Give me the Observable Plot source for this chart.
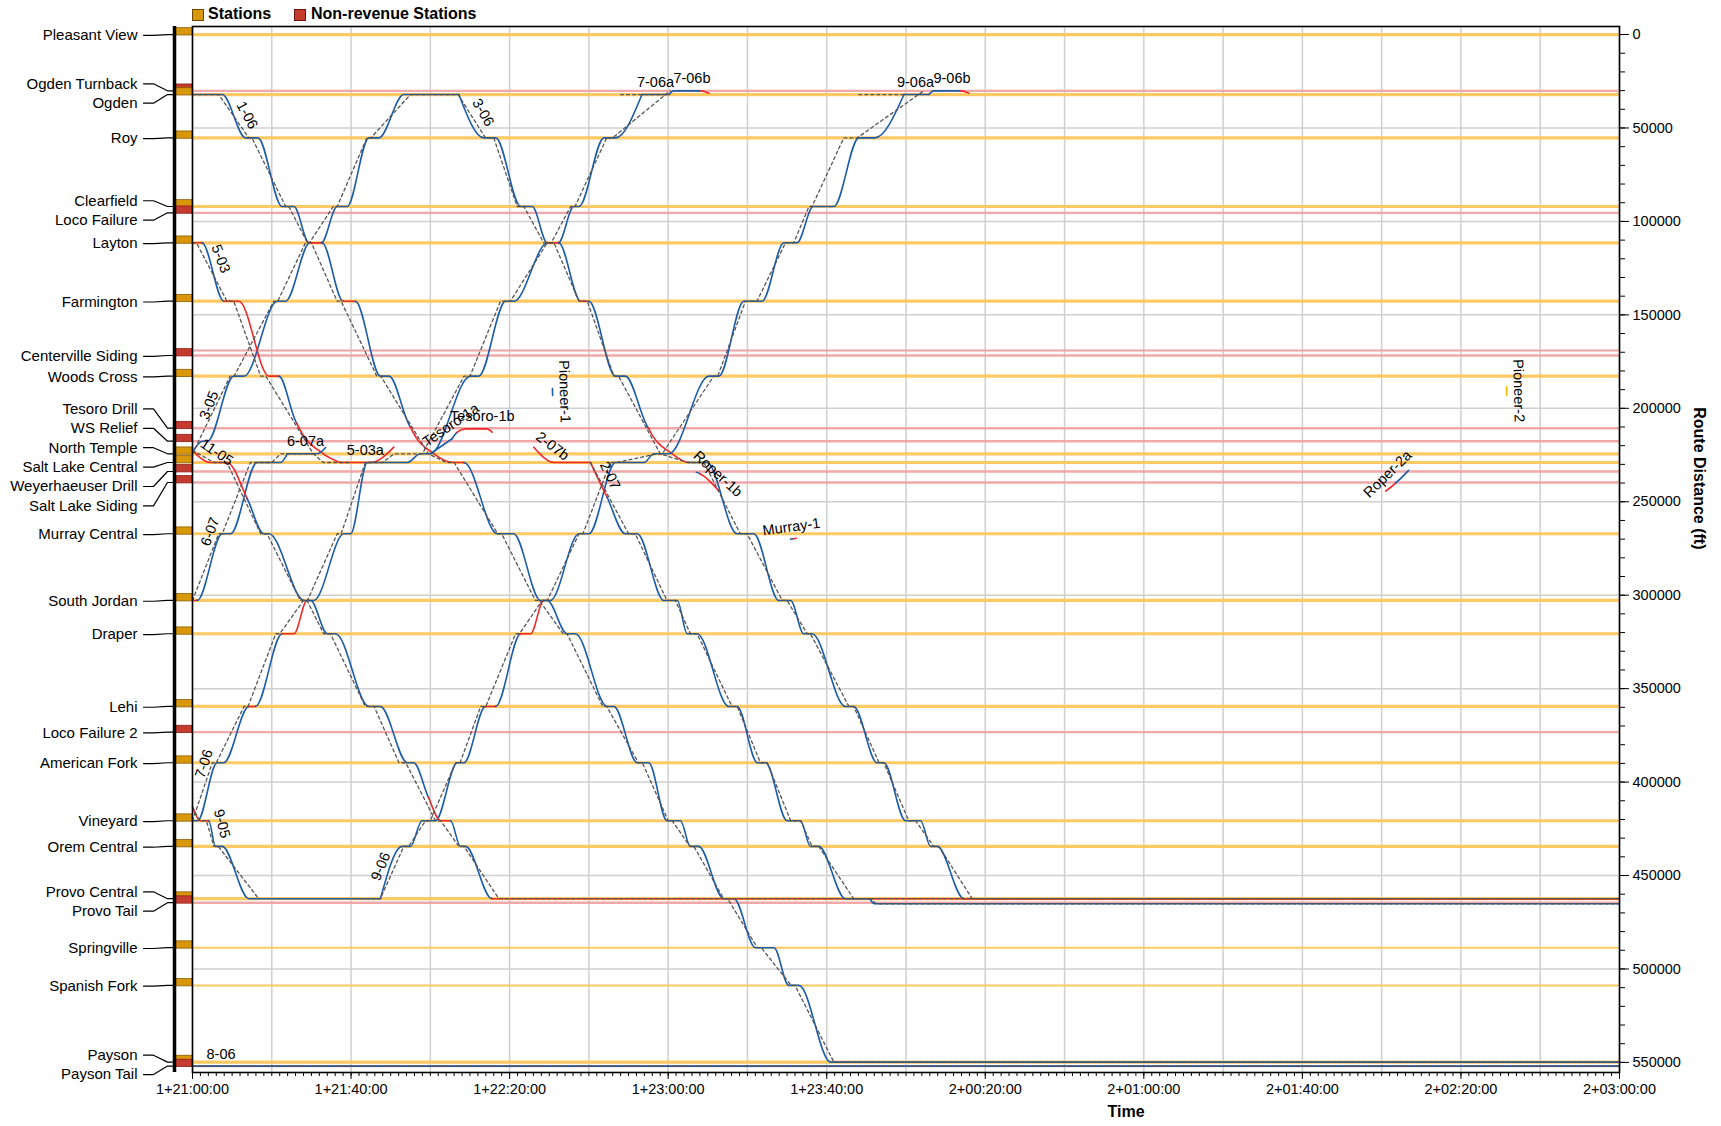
<!DOCTYPE html>
<html><head><meta charset="utf-8">
<script src="https://cdn.jsdelivr.net/npm/d3@7"></script>
<script src="https://cdn.jsdelivr.net/npm/@observablehq/plot@0.6"></script>
<style>
body{margin:0;background:#fff;font-family:"Liberation Sans",Arial,sans-serif;}
#wrap{position:relative;width:1721px;height:1126px;overflow:hidden;}
#legend{position:absolute;left:0;top:0;width:600px;height:26px;font-weight:bold;font-size:16px;color:#000;}
#legend .sw{position:absolute;top:9px;width:10px;height:10px;border:1px solid #000;}
#legend .tx{position:absolute;top:5px;line-height:18px;white-space:nowrap;}
#chart{position:absolute;left:0;top:0;}
</style></head>
<body><div id="wrap"><div id="chart"></div>
<div id="legend"><span class="sw" style="left:192px;background:#d9980b;border-color:#6b4700"></span><span class="tx" style="left:208px">Stations</span><span class="sw" style="left:294px;background:#c43c2f;border-color:#6e140f"></span><span class="tx" style="left:311px">Non-revenue Stations</span></div>
</div>
<script>
// ---------------- data ----------------
const stationNames = ["Pleasant View","Ogden Turnback","Ogden","Roy","Clearfield","Loco Failure","Layton","Farmington","Centerville Siding","Woods Cross","Tesoro Drill","WS Relief","North Temple","Salt Lake Central","Weyerhaeuser Drill","Salt Lake Siding","Murray Central","South Jordan","Draper","Lehi","Loco Failure 2","American Fork","Vineyard","Orem Central","Provo Central","Provo Tail","Springville","Spanish Fork","Payson","Payson Tail"];
const stationFeet = [0,30120,32100,55270,92020,95400,111450,142700,171740,182800,210640,217600,224330,228990,233800,239690,267130,302820,320640,359530,373270,389650,420680,434430,462410,464550,488630,508800,549840,551980];
const stationTypes = ["rev","non","rev","rev","rev","non","rev","rev","non","rev","non","non","rev","rev","non","non","rev","rev","rev","rev","non","rev","rev","rev","rev","non","rev","rev","rev","non"];
const sidingFeet = [169060];
const thinStations = ["Springville","Spanish Fork"];

const trip106 = [[0,"Ogden"],[7.5,"Ogden"],[13.4,"Roy"],[16.5,"Roy"],[22.6,"Clearfield"],[25.6,"Clearfield"],[29.4,"Layton","r"],[32.7,"Layton"],[38.0,"Farmington","r"],[41.1,"Farmington"],[47.4,"Woods Cross"],[49.6,"Woods Cross"],[55,210100,"r"],[60.9,"North Temple","r"],[65.9,"Salt Lake Central","r"],[68.5,"Salt Lake Central"],[76.9,"Murray Central"],[81,"Murray Central"],[87.8,"South Jordan"],[89.5,"South Jordan"],[94.5,"Draper"],[96.6,"Draper"],[104.6,"Lehi"],[106.3,"Lehi"],[112.2,"American Fork"],[115.1,"American Fork"],[119.7,"Vineyard"],[123.1,"Vineyard"],[125.6,"Orem Central"],[127.7,"Orem Central"],[134,"Provo Central"],[136.6,"Provo Central"],[142,"Springville"],[146.7,"Springville"],[150.4,"Spanish Fork"],[153,"Spanish Fork"],[161,"Payson"],[360,"Payson"]];
const trip305 = [[0,223500],[2.5,"WS Relief"],[3.8,"WS Relief"],[10.4,"Woods Cross"],[13,"Woods Cross"],[21.4,"Farmington"],[23.5,"Farmington"],[29.6,"Layton","r"],[32.5,"Layton"],[36.5,"Clearfield"],[39,"Clearfield"],[44.5,"Roy"],[47,"Roy"],[53.3,"Ogden"],[67.2,"Ogden"]];
const trip306 = [[67.2,"Ogden"],[73.5,"Roy"],[76.5,"Roy"],[82.8,"Clearfield"],[85.7,"Clearfield"],[89.5,"Layton","r"],[92.4,"Layton"],[97.9,"Farmington","r"],[100,"Farmington"],[106.7,"Woods Cross"],[109.2,"Woods Cross"],[115.1,210800,"r"],[121,"North Temple","r"],[125.2,"Salt Lake Central"],[129.8,"Salt Lake Central"],[137.4,"Murray Central"],[141.6,"Murray Central"],[147.9,"South Jordan"],[150.9,"South Jordan"],[154.2,"Draper"],[156.3,"Draper"],[164.7,"Lehi"],[166.8,"Lehi"],[172.7,"American Fork"],[174.4,"American Fork"],[179.9,"Vineyard"],[183.7,"Vineyard"],[186.2,"Orem Central"],[187.9,"Orem Central"],[194.6,"Provo Central","r"],[360,"Provo Central"]];
const trip503 = [[0,"Layton","r"],[2.4,"Layton"],[7.9,"Farmington","r"],[11.7,"Farmington","r"],[19.3,"Woods Cross","r"],[21.8,"Woods Cross"],[26.4,208300,"r"],[33,"North Temple","r"],[37.3,"Salt Lake Central"]];
const trip503a = [[37.3,"Salt Lake Central","r"],[45,"Salt Lake Central","r"],[50.8,220800]];
const trip607 = [[0,"South Jordan","r"],[1.2,"South Jordan"],[7.5,"Murray Central"],[9.6,"Murray Central"],[16.3,"Salt Lake Central"],[22.2,"Salt Lake Central"],[23.9,"North Temple"]];
const trip607a = [[23.9,"North Temple"],[31.5,"North Temple"],[33.6,221000]];
const trip706 = [[0,"Vineyard"],[1.3,"Vineyard"],[6.2,"American Fork"],[7.9,"American Fork"],[14.2,"Lehi","r"],[15.9,"Lehi"],[22.6,"Draper","r"],[25.6,"Draper","r"],[28.9,"South Jordan"],[30.6,"South Jordan"],[38.2,"Murray Central"],[39.9,"Murray Central"],[44.1,"Salt Lake Central"],[54.2,"Salt Lake Central"],[57.5,"North Temple"],[60,"North Temple"],[70.1,"Woods Cross"],[72.2,"Woods Cross"],[79,"Farmington"],[81.1,"Farmington"],[89.6,"Layton","r"],[92.3,"Layton"],[96.2,"Clearfield"],[97.5,"Clearfield"],[103.8,"Roy"],[106.7,"Roy"],[113.4,"Ogden"]];
const trip706a = [[113.4,"Ogden"],[120.2,"Ogden"]];
const trip706b = [[120.2,"Ogden"],[121.4,"Ogden Turnback"],[128.2,"Ogden Turnback","r"],[130.3,31400]];
const trip905 = [[0,413400,"r"],[2,"Vineyard","r"],[4.1,"Vineyard"],[5.8,"Orem Central"],[7.5,"Orem Central"],[14.2,"Provo Central"],[47.4,"Provo Central"]];
const trip906 = [[47.4,"Provo Central"],[52.9,"Orem Central"],[55,"Orem Central"],[57.9,"Vineyard"],[61.3,"Vineyard"],[66.8,"American Fork"],[68.5,"American Fork"],[73.9,"Lehi","r"],[76.5,"Lehi"],[82.8,"Draper","r"],[85.3,"Draper","r"],[88.6,"South Jordan"],[90.3,"South Jordan"],[97.5,"Murray Central"],[100,"Murray Central"],[106.7,"Salt Lake Central"],[113.9,"Salt Lake Central"],[116.4,"North Temple"],[120.2,"North Temple"],[130.3,"Woods Cross"],[132.8,"Woods Cross"],[139.1,"Farmington"],[143.7,"Farmington"],[149.2,"Layton"],[152.5,"Layton"],[156.6,"Clearfield"],[161.8,"Clearfield"],[168.1,"Roy"],[172.1,"Roy"],[179.5,"Ogden"]];
const trip906a = [[179.5,"Ogden"],[185.8,"Ogden"]];
const trip906b = [[185.8,"Ogden"],[187,"Ogden Turnback"],[193.8,"Ogden Turnback","r"],[195.9,31400]];
const trip1105 = [[0,222500,"r"],[4.5,"Salt Lake Central","r"],[8.7,"Salt Lake Central","r"],[13.8,248400],[18,"Murray Central"],[19.3,"Murray Central"],[28.2,"South Jordan"],[29.8,"South Jordan"],[34,"Draper"],[36.1,"Draper"],[44.5,"Lehi"],[47.4,"Lehi"],[54.2,"American Fork"],[55.8,"American Fork"],[59.6,408500,"r"],[62.6,"Vineyard","r"],[65.1,"Vineyard"],[67.6,"Orem Central"],[68.9,"Orem Central"],[75.5,"Provo Central","r"],[360,"Provo Central"]];
const trip207b = [[86.1,220800,"r"],[91.2,"Salt Lake Central","r"],[100.4,"Salt Lake Central"]];
const trip207 = [[100.4,"Salt Lake Central","r"],[104.6,247600],[109.2,"Murray Central"],[112.2,"Murray Central"],[118.9,"South Jordan"],[122.3,"South Jordan"],[124.8,"Draper"],[127.3,"Draper"],[135.3,"Lehi"],[137.4,"Lehi"],[142.5,"American Fork"],[144.6,"American Fork"],[150,"Vineyard"],[153.4,"Vineyard"],[155.9,"Orem Central"],[158,"Orem Central"],[164.7,"Provo Central"],[170.6,"Provo Central"],[172,465100],[360,465100]];
const trip806 = [[0,"Payson Tail"],[360,"Payson Tail"]];
const tripTesoro1a = [[60,"North Temple"],[65.5,216300]];
const tripTesoro1b = [[65.5,216300],[66.8,212800,"r"],[68.9,210980,"r"],[74.3,210980,"r"],[75.6,212800]];
const tripPioneer1 = [[90.8,189400],[90.85,193100]];
const tripPioneer2 = [[331.5,188300,"y"],[331.55,193100]];
const tripMurray1 = [[150.9,270000],[151.6,269800,"r"],[152.3,269500]];
const tripRoper1b = [[127.1,234200],[128,235000,"r"],[132.8,244300]];
const tripRoper2a = [[301,244300,"r"],[303.5,240000],[306.8,233200]];

const sched106 = [[0,"Ogden"],[6.6,"Ogden"],[14.2,"Roy"],[15,"Roy"],[23.5,"Clearfield"],[24.3,"Clearfield"],[29,"Layton"],[30,"Layton"],[36.5,"Farmington"],[37.5,"Farmington"],[46.5,"Woods Cross"],[47.5,"Woods Cross"],[59.5,"North Temple"],[64,"Salt Lake Central"],[66,"Salt Lake Central"],[77,"Murray Central"],[78,"Murray Central"],[86.5,"South Jordan"],[87.5,"South Jordan"],[93.5,"Draper"],[94.5,"Draper"],[103.5,"Lehi"],[104.5,"Lehi"],[112.5,"American Fork"],[113.5,"American Fork"],[120,"Vineyard"],[121,"Vineyard"],[125.5,"Orem Central"],[126.5,"Orem Central"],[134,"Provo Central"],[135,"Provo Central"],[142.5,"Springville"],[143.5,"Springville"],[151,"Spanish Fork"],[152,"Spanish Fork"],[161.8,"Payson"],[360,"Payson"]];
const sched305 = [[0,"North Temple"],[9.5,"Woods Cross"],[10.5,"Woods Cross"],[20.5,"Farmington"],[21.5,"Farmington"],[28.5,"Layton"],[29.5,"Layton"],[35.5,"Clearfield"],[36.5,"Clearfield"],[44,"Roy"],[45,"Roy"],[55,"Ogden"],[67,"Ogden"]];
const sched306 = [[67,"Ogden"],[73.9,"Roy"],[76,"Roy"],[81.9,"Clearfield"],[83.6,"Clearfield"],[88.6,"Layton"],[91.2,"Layton"],[97.5,"Farmington"],[99.6,"Farmington"],[106.3,"Woods Cross"],[107.5,"Woods Cross"],[118,"North Temple"],[124.8,"Salt Lake Central"],[129,"Salt Lake Central"],[138.2,"Murray Central"],[139.9,"Murray Central"],[148.8,"South Jordan"],[150,"South Jordan"],[155.1,"Draper"],[155.9,"Draper"],[165.6,"Lehi"],[166.8,"Lehi"],[173.2,"American Fork"],[174.4,"American Fork"],[180.7,"Vineyard"],[182.4,"Vineyard"],[187,"Orem Central"],[188.3,"Orem Central"],[196.7,"Provo Central"],[360,"Provo Central"]];
const sched503 = [[0,"Layton"],[1,"Layton"],[8.7,"Farmington"],[10.4,"Farmington"],[17.2,"Woods Cross"],[18.5,"Woods Cross"],[30.5,"North Temple"],[33,"Salt Lake Central"],[39.5,"Salt Lake Central"]];
const sched607 = [[0,"South Jordan"],[6.6,"Murray Central"],[7.5,"Murray Central"],[14.6,"Salt Lake Central"],[20,"Salt Lake Central"],[22.2,"North Temple"],[30.6,"North Temple"]];
const sched706 = [[0,"Vineyard"],[5,"American Fork"],[6,"American Fork"],[13,"Lehi"],[14,"Lehi"],[21,"Draper"],[22,"Draper"],[28,"South Jordan"],[29,"South Jordan"],[36.5,"Murray Central"],[37.5,"Murray Central"],[43.6,"Salt Lake Central"],[48,"Salt Lake Central"],[50.8,"North Temple"],[58,"North Temple"],[68.5,"Woods Cross"],[70,"Woods Cross"],[77.7,"Farmington"],[80.2,"Farmington"],[89.5,"Layton"],[90.5,"Layton"],[95.4,"Clearfield"],[96.5,"Clearfield"],[104.5,"Roy"],[106,"Roy"],[120.5,"Ogden Turnback"]];
const sched706a = [[108,"Ogden"],[120.2,"Ogden"]];
const sched905 = [[0,413400],[1.8,"Vineyard"],[3.5,"Vineyard"],[5.4,"Orem Central"],[6.5,"Orem Central"],[16.7,"Provo Central"]];
const sched906 = [[40.7,"Provo Central"],[47.4,"Provo Central"],[53.3,"Orem Central"],[54.5,"Orem Central"],[58.8,"Vineyard"],[60,"Vineyard"],[66.4,"American Fork"],[67.5,"American Fork"],[72.7,"Lehi"],[74,"Lehi"],[81.5,"Draper"],[82.5,"Draper"],[88.2,"South Jordan"],[89.5,"South Jordan"],[97.5,"Murray Central"],[98.5,"Murray Central"],[105.4,"Salt Lake Central"],[107,"Salt Lake Central"],[117.2,"North Temple"],[118.5,"North Temple"],[131.5,"Woods Cross"],[132.5,"Woods Cross"],[139.5,"Farmington"],[142.4,"Farmington"],[149.6,"Layton"],[151.7,"Layton"],[155.5,"Clearfield"],[156.3,"Clearfield"],[164.3,"Roy"],[167.7,"Roy"],[184.5,"Ogden Turnback"]];
const sched906a = [[168.1,"Ogden"],[179.5,"Ogden"]];
const sched1105 = [[0,222500],[5.4,"Salt Lake Central"],[8.7,"Salt Lake Central"],[17.2,"Murray Central"],[18.8,"Murray Central"],[27.2,"South Jordan"],[28.9,"South Jordan"],[33.1,"Draper"],[34.8,"Draper"],[43.6,"Lehi"],[45.8,"Lehi"],[52.1,"American Fork"],[53.8,"American Fork"],[61.3,"Vineyard"],[62.6,"Vineyard"],[67.2,"Orem Central"],[68.5,"Orem Central"],[77.3,"Provo Central"],[360,"Provo Central"]];
const sched207 = [[100.4,"Salt Lake Central"],[110,"Murray Central"],[111.7,"Murray Central"],[119.7,"South Jordan"],[121.8,"South Jordan"],[125.6,"Draper"],[127.3,"Draper"],[136.1,"Lehi"],[137.4,"Lehi"],[143.3,"American Fork"],[145,"American Fork"],[150.9,"Vineyard"],[153.4,"Vineyard"],[156.3,"Orem Central"],[158,"Orem Central"],[166.8,"Provo Central"],[171,"Provo Central"],[172.5,465100],[360,465100]];
const sched806 = [[0,"Payson Tail"],[360,"Payson Tail"]];

const tripList = [["1-06",trip106],["3-05",trip305],["3-06",trip306],["5-03",trip503],["5-03a",trip503a],["6-07",trip607],["6-07a",trip607a],["7-06",trip706],["7-06a",trip706a],["7-06b",trip706b],["9-05",trip905],["9-06",trip906],["9-06a",trip906a],["9-06b",trip906b],["11-05",trip1105],["2-07b",trip207b],["2-07",trip207],["8-06",trip806],["Tesoro-1a",tripTesoro1a],["Tesoro-1b",tripTesoro1b],["Pioneer-1",tripPioneer1],["Pioneer-2",tripPioneer2],["Murray-1",tripMurray1],["Roper-1b",tripRoper1b],["Roper-2a",tripRoper2a]];
const schedList = [["1-06",sched106],["3-05",sched305],["3-06",sched306],["5-03",sched503],["6-07",sched607],["7-06",sched706],["7-06a",sched706a],["9-05",sched905],["9-06",sched906],["9-06a",sched906a],["11-05",sched1105],["2-07",sched207],["8-06",sched806]];
// label: trip, text, minute along the trip where the label sits
const trainLabels = [["1-06","1-06",11.1],["3-05","3-05",7.0],["3-06","3-06",70.7],["5-03","5-03",4.3],["5-03a","5-03a",43.6],["6-07","6-07",7.3],["6-07a","6-07a",28.5],["7-06","7-06",5.8],["7-06a","7-06a",116.8],["7-06b","7-06b",126],["9-05","9-05",4.5],["9-06","9-06",50.3],["9-06a","9-06a",182.4],["9-06b","9-06b",191.6],["11-05","11-05",4.4],["8-06","8-06",7.2],["2-07b","2-07b",89],["2-07","2-07",102.6],["Tesoro-1a","Tesoro-1a",66.9],["Tesoro-1b","Tesoro-1b",73.1],["Pioneer-1","Pioneer-1",90.825],["Pioneer-2","Pioneer-2",331.525],["Murray-1","Murray-1",151.5],["Roper-1b","Roper-1b",130.5],["Roper-2a","Roper-2a",303.6]];

const majorTimeTicks = d3.range(0, 361, 40);
const minorTimeTicks = d3.range(0, 361, 2);
const gridTimes = d3.range(0, 361, 20);
const majorDistTicks = d3.range(0, 550001, 50000);
const minorDistTicks = d3.range(0, 550001, 10000);

// ---------------- layout ----------------
const W = 1721, H = 1126, ML = 192, MR = 102, MT = 26, MB = 54;
const XD = [0, 360], YD = [-4300, 555400];
const kx = (W - ML - MR) / (XD[1] - XD[0]);
const ky = (H - MT - MB) / (YD[1] - YD[0]);
const FS = 14.5;

const posOf = s => typeof s === "number" ? s : stationFeet[stationNames.indexOf(s)];
const COL = {b: "#1c5ca8", r: "#ee2a2a", y: "#f2b705"};

const fmtTime = m => {
  const tot = Math.round((21 * 60 + m) * 60);
  const day = 1 + Math.floor(tot / 86400);
  let r = tot % 86400;
  const hh = Math.floor(r / 3600); r %= 3600;
  const mm = Math.floor(r / 60), ss = r % 60;
  const p = v => String(v).padStart(2, "0");
  return `${day}+${p(hh)}:${p(mm)}:${p(ss)}`;
};

// stations + dodged labels
const stationRows = stationNames.map((name, i) => ({name, pos: stationFeet[i], type: stationTypes[i]}));
const sp = 19.4 / ky;
const clusters = [];
for (const s of [...stationRows].sort((a, b) => a.pos - b.pos)) {
  clusters.push({items: [s], mean: s.pos});
  while (clusters.length > 1) {
    const c = clusters[clusters.length - 1], p = clusters[clusters.length - 2];
    const pBottom = p.mean + (p.items.length - 1) / 2 * sp;
    const cTop = c.mean - (c.items.length - 1) / 2 * sp;
    if (cTop - pBottom < sp) {
      const items = p.items.concat(c.items);
      clusters.splice(-2, 2, {items, mean: d3.mean(items, d => d.pos)});
    } else break;
  }
}
clusters.forEach(c => c.items.forEach((s, i) => { s.labelPos = c.mean + (i - (c.items.length - 1) / 2) * sp + 0.8 / ky; }));

const leaderRows = [];
stationRows.forEach(s => {
  leaderRows.push({name: s.name, x: -49 / kx, y: s.labelPos});
  leaderRows.push({name: s.name, x: -39 / kx, y: s.labelPos});
  leaderRows.push({name: s.name, x: -25 / kx, y: s.pos});
  leaderRows.push({name: s.name, x: -18 / kx, y: s.pos});
});

// train segments (split by colour, keeping curve context)
const segRows = [];
let segId = 0;
for (const [name, pts] of tripList) {
  const P = pts.map(p => ({t: p[0], v: posOf(p[1]), c: p[2] || "b"}));
  const n = P.length;
  let a = 0;
  while (a < n - 1) {
    let b = a + 1;
    while (b < n - 1 && P[b].c === P[a].c) b++;
    const run = [];
    if (a > 0) {
      const dt = P[a].t - P[a - 1].t, f = Math.min(0.3, 0.05 / Math.max(dt, 1e-6));
      run.push({t: P[a].t - f * dt, v: P[a].v - f * (P[a].v - P[a - 1].v)});
    }
    for (let i = a; i <= b; i++) run.push({t: P[i].t, v: P[i].v});
    if (b < n - 1) {
      const dt = P[b + 1].t - P[b].t, f = Math.min(0.3, 0.05 / Math.max(dt, 1e-6));
      run.push({t: P[b].t + f * dt, v: P[b].v + f * (P[b + 1].v - P[b].v)});
    }
    for (const r of run) segRows.push({t: r.t, v: r.v, seg: segId, color: COL[P[a].c]});
    segId++;
    a = b;
  }
}

const schedRows = [];
for (const [name, pts] of schedList) pts.forEach(p => schedRows.push({trip: name, t: p[0], v: posOf(p[1])}));

// label placement along trips
const tripMap = new Map(tripList);
const labelRows = trainLabels.map(([trip, text, t]) => {
  const P = tripMap.get(trip).map(p => ({t: p[0], v: posOf(p[1])}));
  let i = 0;
  while (i < P.length - 2 && t > P[i + 1].t) i++;
  const A = P[i], B = P[i + 1];
  const f = (t - A.t) / (B.t - A.t);
  const v = A.v + f * (B.v - A.v);
  const ang = Math.atan2((B.v - A.v) * ky, (B.t - A.t) * kx);
  const off = 12;
  return {text, x: t + off * Math.sin(ang) / kx, y: v - off * Math.cos(ang) / ky, rot: ang * 180 / Math.PI};
});

const stationLineColor = s => s.type === "rev" ? "#ffc65c" : "#f0a3a3";
const stationLineWidth = s => s.type === "rev" ? (thinStations.includes(s.name) ? 2 : 3.2) : 2.4;

const chart = Plot.plot({
  width: W, height: H,
  marginLeft: ML, marginRight: MR, marginTop: MT, marginBottom: MB,
  style: {fontFamily: "'Liberation Sans', Arial, sans-serif", fontSize: FS + "px", background: "white", overflow: "visible"},
  x: {domain: XD, type: "linear"},
  y: {domain: YD, reverse: true},
  marks: [
    Plot.ruleX(gridTimes, {stroke: "#cfcfcf", strokeWidth: 1.5}),
    Plot.ruleY(majorDistTicks, {stroke: "#cfcfcf", strokeWidth: 1.5}),
    Plot.ruleY(sidingFeet, {stroke: "#f0a3a3", strokeWidth: 2}),
    Plot.ruleY(stationRows, {y: "pos", stroke: stationLineColor, strokeWidth: stationLineWidth, strokeOpacity: 0.95}),
    Plot.line(segRows, {x: "t", y: "v", z: "seg", stroke: "color", strokeWidth: 1.6, curve: "monotone-x"}),
    Plot.line(schedRows, {x: "t", y: "v", z: "trip", stroke: "#555", strokeWidth: 1.3, strokeDasharray: "3,3", curve: "linear"}),
    Plot.text(labelRows, {x: "x", y: "y", text: "text", rotate: "rot", textAnchor: "middle", lineAnchor: "middle", fontSize: FS, fill: "black"}),
    // left station panel
    Plot.rect(stationRows, {x1: -16.3 / kx, x2: 0, y1: d => d.pos - 3400, y2: d => d.pos + 500, fill: d => d.type === "rev" ? "#d9980b" : "#c43c2f", stroke: d => d.type === "rev" ? "#8a5c00" : "#8c1d16", strokeWidth: 0.8}),
    Plot.ruleX([-18 / kx], {stroke: "black", strokeWidth: 3.5}),
    Plot.line(leaderRows, {x: "x", y: "y", z: "name", stroke: "black", strokeWidth: 1.2}),
    Plot.text(stationRows, {x: -55 / kx, y: "labelPos", text: "name", textAnchor: "end", lineAnchor: "middle", fontSize: 15, fill: "black"}),
    // axes
    Plot.axisX({ticks: minorTimeTicks, tickSize: 4, tickFormat: () => "", label: null}),
    Plot.axisX({ticks: majorTimeTicks, tickSize: 7, tickPadding: 4, tickFormat: fmtTime, label: null, fontSize: FS}),
    Plot.axisY({anchor: "right", ticks: minorDistTicks, tickSize: 5, tickFormat: () => "", label: null}),
    Plot.axisY({anchor: "right", ticks: majorDistTicks, tickSize: 9, tickPadding: 4, tickFormat: d => String(d), label: null, fontSize: FS}),
    Plot.text(["Route Distance (ft)"], {frameAnchor: "right", dx: 80, rotate: 90, text: d => d, fontWeight: "bold", fontSize: 16}),
    Plot.text(["Time"], {frameAnchor: "bottom", dx: 220, dy: 44, text: d => d, fontWeight: "bold", fontSize: 16}),
    Plot.frame({stroke: "black", strokeWidth: 1.6})
  ]
});
document.getElementById("chart").appendChild(chart);
</script>
</body></html>
